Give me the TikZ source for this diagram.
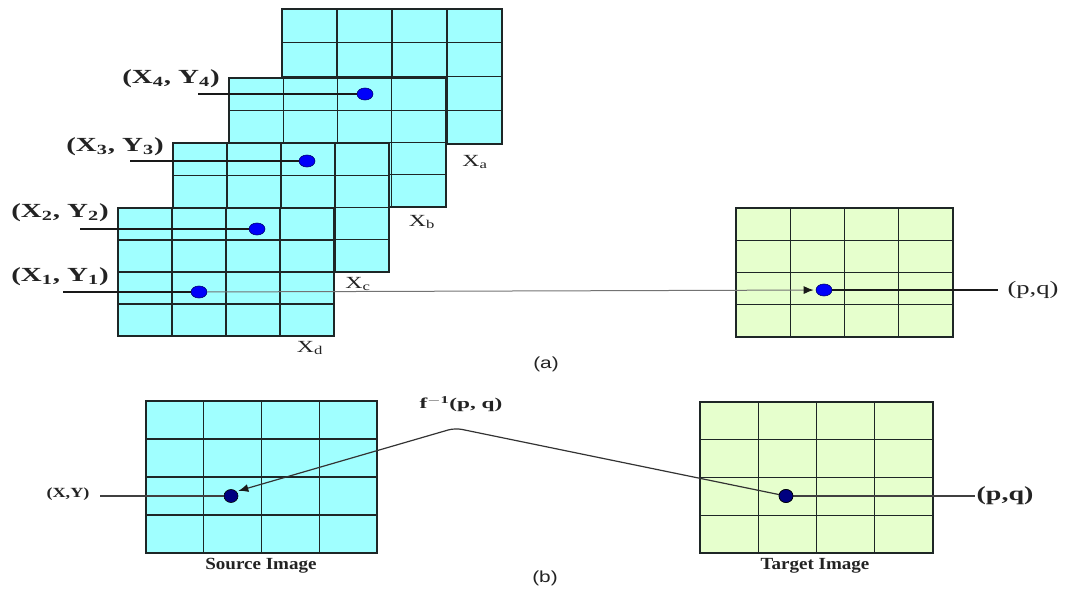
\documentclass[tikz,border=0pt]{standalone}
\usepackage{fontspec}
\setmainfont{Liberation Serif}
\newfontfamily\sansf{Liberation Sans}
\usepackage{graphicx}
\usetikzlibrary{shapes.geometric,arrows.meta}
\definecolor{cyanfill}{RGB}{160,255,255}
\definecolor{greenfill}{RGB}{230,255,205}
\definecolor{gridcol}{RGB}{30,38,38}
\definecolor{dotblue}{RGB}{0,0,250}
\definecolor{dotnavy}{RGB}{0,0,128}
\definecolor{txt}{RGB}{35,35,35}
\newcommand\cellgrid[5]{%
  \filldraw[fill=#5, gridline] (#1,#2) rectangle ++(#3,#4);
  \foreach \i in {1,2,3} {
    \draw[gridline] ({#1+\i*#3/4},#2) -- ++(0,#4);
    \draw[gridline] (#1,{#2+\i*#4/4}) -- ++(#3,0);
  }%
}
\newcommand\hs[2]{\scalebox{#1}[1]{#2}}
\begin{document}
\begin{tikzpicture}[x=1pt,y=-1pt,
  gridline/.style={draw=gridcol,line width=1.35pt},
  topdot/.style={ellipse,fill=dotblue,draw=blue!45!black,line width=0.6pt,minimum width=16pt,minimum height=12pt,inner sep=0pt},
  botdot/.style={ellipse,fill=dotnavy,draw=black,line width=0.6pt,minimum width=14pt,minimum height=13pt,inner sep=0pt},
  ptlabel/.style={font=\fontsize{20}{20}\selectfont\bfseries,text=txt,inner sep=0pt},
  xlab/.style={font=\fontsize{17}{17}\selectfont,text=txt,inner sep=0pt},
  caplab/.style={font=\fontsize{17}{17}\selectfont\bfseries,text=txt,inner sep=0pt},
  sublab/.style={font=\sansf\fontsize{16}{16}\selectfont,text=txt,inner sep=0pt},
  labline/.style={draw=black!90,line width=1.5pt},
  thinline/.style={draw=black!75,line width=1.1pt},
  longline/.style={draw=black!55,line width=1pt},
  polyline/.style={draw=black!80,line width=1.2pt},
  tip/.style={-{Latex[length=10pt,width=8pt,color=black!90]}}
]
\useasboundingbox (0,0) rectangle (1065,594);

% ---- (a) stacked source grids
\cellgrid{282}{9}{220}{135}{cyanfill}
\cellgrid{229}{78}{217}{129}{cyanfill}
\cellgrid{173}{143}{216}{129}{cyanfill}
\cellgrid{118}{208}{216}{128}{cyanfill}
% target grid (a)
\cellgrid{736}{208}{217}{129}{greenfill}

% dots (a)
\node[topdot] (d4) at (365,94) {};
\node[topdot] (d3) at (307,161) {};
\node[topdot] (d2) at (257,229) {};
\node[topdot] (d1) at (199,292) {};
\node[topdot] (t1) at (824,290) {};

% label connectors (a)
\coordinate (s4) at (198,94);
\coordinate (s3) at (130,161);
\coordinate (s2) at (80,229);
\coordinate (s1) at (63,292);
\coordinate (e1) at (998,290);
\draw[labline] (s4) -- (d4);
\draw[labline] (s3) -- (d3);
\draw[labline] (s2) -- (d2);
\draw[labline] (s1) -- (d1);
\draw[longline,tip,shorten >=2pt] (d1) -- (t1);
\draw[labline,line width=1.3pt] (t1) -- (e1);

% labels (a)
\node[ptlabel] (l4) at (171,79) {\hs{1.45}{(X\textsubscript{4}, Y\textsubscript{4})}};
\node[ptlabel] (l3) at (115,147) {\hs{1.45}{(X\textsubscript{3}, Y\textsubscript{3})}};
\node[ptlabel] (l2) at (60,213) {\hs{1.45}{(X\textsubscript{2}, Y\textsubscript{2})}};
\node[ptlabel] (l1) at (60,277) {\hs{1.45}{(X\textsubscript{1}, Y\textsubscript{1})}};
\node[xlab] (na) at (475,162) {\hs{1.4}{X\textsubscript{a}}};
\node[xlab] (nb) at (422,222) {\hs{1.4}{X\textsubscript{b}}};
\node[xlab] (nc) at (358,284) {\hs{1.4}{X\textsubscript{c}}};
\node[xlab] (nd) at (310,348) {\hs{1.4}{X\textsubscript{d}}};
\node[xlab,font=\fontsize{19}{19}\selectfont] (pq1) at (1033,290) {\hs{1.4}{(p,q)}};
\node[sublab] (cap_a) at (546,364) {\hs{1.3}{(a)}};

% ---- (b)
\cellgrid{146}{401}{231}{152}{cyanfill}
\cellgrid{700}{402}{233}{151}{greenfill}

\node[botdot] (sd) at (231,496) {};
\node[botdot] (td) at (786,496) {};
\coordinate (pk) at (455,428);
\coordinate (s0) at (100,496);
\coordinate (e2) at (975,496);
\draw[thinline] (s0) -- (sd);
\draw[thinline] (td) -- (e2);
\draw[polyline,rounded corners=7pt,tip,shorten >=2pt] (td.center) -- (pk) -- (sd.40);
\node[botdot] at (td) {};

\node[caplab,font=\fontsize{14}{14}\selectfont\bfseries] (xy) at (68,494) {\hs{1.3}{(X,Y)}};
\node[caplab,font=\fontsize{20}{20}\selectfont\bfseries] (pq2) at (1005,496) {\hs{1.4}{(p,q)}};
\node[caplab,font=\fontsize{15}{15}\selectfont\bfseries] (finv) at (461,404) {\hs{1.55}{f\textsuperscript{$-$1}(p, q)}};
\node[caplab] (src) at (261,566) {\hs{1.12}{Source Image}};
\node[caplab] (tgt) at (815,566) {\hs{1.12}{Target Image}};
\node[sublab] (cap_b) at (545,578) {\hs{1.3}{(b)}};
\end{tikzpicture}
\end{document}
